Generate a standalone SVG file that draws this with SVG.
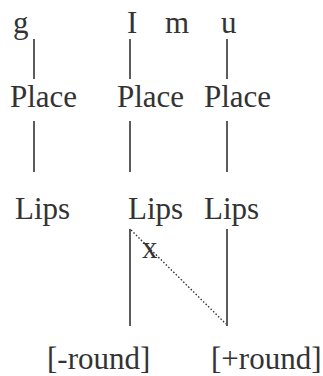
<svg xmlns="http://www.w3.org/2000/svg" width="323" height="376" viewBox="0 0 323 376">
<style>
text{font-family:"Liberation Serif","Times New Roman",serif;font-size:31px;fill:#333}
.l{stroke:#333;stroke-width:1.6;fill:none}
.d{stroke:#333;stroke-width:1.4;stroke-dasharray:1.5 2;fill:none}
</style>
<rect width="323" height="376" fill="#fff"/>
<g id="n-g"><text x="13" y="33">g</text></g>
<g id="n-I"><text x="127" y="33">I</text></g>
<g id="n-m"><text x="165" y="33">m</text></g>
<g id="n-u"><text x="221" y="33">u</text></g>
<g id="n-place1"><text x="10" y="107">Place</text></g>
<g id="n-place2"><text x="117" y="107">Place</text></g>
<g id="n-place3"><text x="204" y="107">Place</text></g>
<g id="n-lips1"><text x="15" y="219">Lips</text></g>
<g id="n-lips2"><text x="128" y="219">Lips</text></g>
<g id="n-lips3"><text x="204" y="219">Lips</text></g>
<g id="n-x"><text x="142" y="258">x</text></g>
<g id="n-minus"><text x="47" y="369">[-round]</text></g>
<g id="n-plus"><text x="211" y="369">[+round]</text></g>
<g id="connectors">
<line class="l" x1="34" y1="39" x2="34" y2="79"/>
<line class="l" x1="130" y1="39" x2="130" y2="79"/>
<line class="l" x1="227" y1="39" x2="227" y2="79"/>
<line class="l" x1="34" y1="121" x2="34" y2="172"/>
<line class="l" x1="130" y1="121" x2="130" y2="172"/>
<line class="l" x1="227" y1="121" x2="227" y2="172"/>
<line class="l" x1="130" y1="229" x2="130" y2="326"/>
<line class="l" x1="227" y1="229" x2="227" y2="326"/>
<line class="d" x1="131" y1="230" x2="226" y2="324"/>
</g>
</svg>
